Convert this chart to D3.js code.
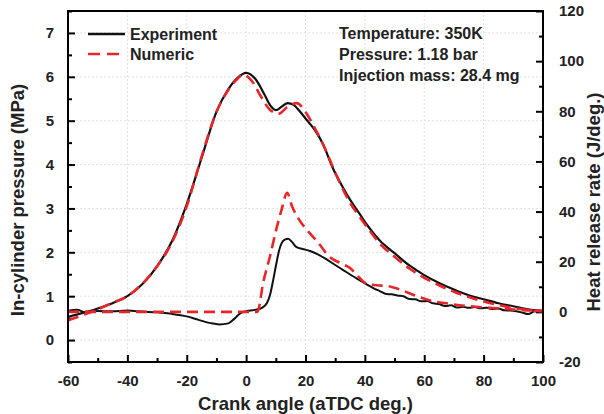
<!DOCTYPE html>
<html>
<head>
<meta charset="utf-8">
<script src="https://cdn.jsdelivr.net/npm/d3@7"></script>
<style>
  body { margin: 0; background: #fff; }
  svg { display: block; font-family: "Liberation Sans", Arial, sans-serif; font-weight: bold; }
</style>
</head>
<body>
<div id="chart"></div>
<script>
// In-cylinder pressure and heat release rate, experiment vs numeric

// [crank angle (aTDC deg.), pressure (MPa)]
const expPressure = [
    [-60, 0.53], [-55, 0.62], [-50, 0.72], [-45, 0.84], [-40, 1.0], [-35, 1.27],
    [-30, 1.68], [-25, 2.25], [-20, 3.1], [-15, 4.15], [-10, 5.2], [-6, 5.72],
    [-3, 5.97], [0, 6.09], [3, 5.96], [6, 5.62], [8, 5.36], [10, 5.24], [12, 5.32],
    [14, 5.4], [16, 5.36], [18, 5.22], [20, 5.05], [23, 4.8], [26, 4.45], [29, 3.95],
    [32, 3.55], [35, 3.2], [38, 2.9], [41, 2.6], [45, 2.27], [50, 1.98], [55, 1.7],
    [60, 1.48], [65, 1.3], [70, 1.15], [75, 1.02], [80, 0.93], [85, 0.84], [90, 0.77],
    [95, 0.7], [100, 0.66]
];
const numPressure = [
    [-60, 0.45], [-55, 0.57], [-50, 0.7], [-45, 0.85], [-40, 1.0], [-35, 1.28],
    [-30, 1.68], [-25, 2.22], [-20, 3.05], [-15, 4.18], [-10, 5.2], [-6, 5.7],
    [-3, 5.95], [-1, 6.05], [2, 5.9], [5, 5.55], [8, 5.25], [11, 5.16], [14, 5.32],
    [17, 5.4], [20, 5.2], [23, 4.85], [26, 4.45], [29, 3.98], [32, 3.52], [35, 3.13],
    [38, 2.83], [41, 2.55], [45, 2.2], [50, 1.9], [55, 1.63], [60, 1.42], [65, 1.25],
    [70, 1.1], [75, 0.98], [80, 0.88], [85, 0.8], [90, 0.73], [95, 0.68], [100, 0.65]
];

// [crank angle (aTDC deg.), heat release rate (J/deg.)]
const expHrr = [
    [-60, 0.4], [-57, 0.8], [-54, -0.2], [-50, 0.3], [-45, 0.2], [-40, 0.5], [-35, 0.1],
    [-30, -0.2], [-25, -0.8], [-20, -1.8], [-16, -3.2], [-12, -4.5], [-9, -5], [-6, -4.6],
    [-4, -2.8], [-2, -0.6], [0, 0.3], [3, 0.8], [5.5, 1.7], [7, 3.5], [8, 6.5], [9, 12],
    [10.3, 20], [11, 24], [12, 27.5], [13, 28.8], [14.2, 29.2], [15.5, 27.8], [17, 25.8],
    [19, 25.1], [21.5, 24.3], [24, 23], [27, 21], [30, 18.7], [32, 17.2], [34, 15.7],
    [36, 14.2], [38, 12.8], [40.6, 11], [43, 9.4], [45, 8.3], [47.3, 7.1], [49, 7],
    [51, 6.5], [53, 6.2], [55, 5.1], [57, 5], [59, 4.2], [61, 4.3], [63, 3.4], [65, 3.1],
    [67, 2.3], [69, 2.6], [71, 1.7], [73, 2], [75, 1.6], [77, 1.9], [79, 1.4], [81, 1.6],
    [83, 1.1], [85, 1.3], [87, 0.6], [89, 0.5], [91, 0.2], [93, -0.3], [95, -0.9],
    [97, 0.1], [100, 0.4]
];
const numHrr = [
    [-60, 0], [0, 0], [3.8, 0], [5.8, 12], [8, 22], [10.3, 33.6], [12, 41], [13.8, 47.5],
    [15.5, 42], [18, 36.5], [21, 32], [24, 28], [28, 22], [32, 19.3], [35, 17.5],
    [38, 13.8], [40.6, 11.2], [44, 10.6], [48, 10.2], [52, 8.8], [57, 6.5], [62, 4.5],
    [68, 3.3], [74, 2.4], [80, 1.8], [86, 1.3], [90, 0.9], [95, 0.6], [100, 0.5]
];

const xTicks = [-60, -40, -20, 0, 20, 40, 60, 80, 100];
const pTicks = [0, 1, 2, 3, 4, 5, 6, 7];
const hTicks = [-20, 0, 20, 40, 60, 80, 100, 120];
const infoLines = ["Temperature: 350K", "Pressure: 1.18 bar", "Injection mass: 28.4 mg"];

const W = 604, H = 414;
const margin = { top: 11, right: 61, bottom: 52, left: 68 };
const width = W - margin.left - margin.right;
const height = H - margin.top - margin.bottom;

const svg = d3.select("#chart").append("svg")
    .attr("width", W)
    .attr("height", H);

const g = svg.append("g")
    .attr("transform", `translate(${margin.left},${margin.top})`);

const x = d3.scaleLinear().domain([-60, 100]).range([0, width]);
const yP = d3.scaleLinear().domain([-0.5, 7.5]).range([height, 0]);
const yH = d3.scaleLinear().domain([-20, 120]).range([height, 0]);

// plain hyphen for negatives, like the original
const fmt = d => String(d);

// grid
g.append("g").selectAll("line")
    .data(xTicks.slice(1, -1))
    .join("line")
    .attr("x1", d => x(d)).attr("x2", d => x(d))
    .attr("y1", 0).attr("y2", height)
    .attr("stroke", "#e2e2e2").attr("stroke-dasharray", "2,2");
g.append("g").selectAll("line")
    .data(pTicks)
    .join("line")
    .attr("x1", 0).attr("x2", width)
    .attr("y1", d => yP(d)).attr("y2", d => yP(d))
    .attr("stroke", "#e2e2e2").attr("stroke-dasharray", "2,2");

// axes with inward ticks
const xMinor = d3.range(-50, 100, 20);
const pMinor = d3.range(-0.5, 7.5, 1).concat([7.5]);
const hMinor = d3.range(-10, 120, 20);

g.append("g").attr("transform", `translate(0,${height})`)
    .call(d3.axisBottom(x).tickValues(xTicks).tickSize(-7).tickPadding(13).tickFormat(fmt));
g.append("g").attr("transform", `translate(0,${height})`)
    .call(d3.axisBottom(x).tickValues(xMinor).tickSize(-4).tickFormat(""));

g.append("g")
    .call(d3.axisLeft(yP).tickValues(pTicks).tickSize(-7).tickPadding(14).tickFormat(fmt));
g.append("g")
    .call(d3.axisLeft(yP).tickValues(pMinor).tickSize(-4).tickFormat(""));

g.append("g").attr("transform", `translate(${width},0)`)
    .call(d3.axisRight(yH).tickValues(hTicks).tickSize(-7).tickPadding(16).tickFormat(fmt));
g.append("g").attr("transform", `translate(${width},0)`)
    .call(d3.axisRight(yH).tickValues(hMinor).tickSize(-4).tickFormat(""));

g.selectAll(".domain").remove();
g.selectAll(".tick line").attr("stroke", "#000").attr("stroke-width", 2);
g.selectAll(".tick text").attr("font-size", 15).attr("font-weight", "bold").attr("fill", "#222")
    .attr("font-family", "Liberation Sans, Arial, sans-serif");

// curves
svg.append("clipPath").attr("id", "plotclip")
    .append("rect").attr("width", width).attr("height", height);

const plot = g.append("g").attr("clip-path", "url(#plotclip)");

const lineP = d3.line().x(d => x(d[0])).y(d => yP(d[1])).curve(d3.curveMonotoneX);
const lineH = d3.line().x(d => x(d[0])).y(d => yH(d[1])).curve(d3.curveMonotoneX);

plot.append("path").datum(expHrr).attr("d", lineH)
    .attr("fill", "none").attr("stroke", "#111").attr("stroke-width", 2);
plot.append("path").datum(expPressure).attr("d", lineP)
    .attr("fill", "none").attr("stroke", "#111").attr("stroke-width", 2.2);
plot.append("path").datum(numHrr).attr("d", lineH)
    .attr("fill", "none").attr("stroke", "#e8262a").attr("stroke-width", 2.6)
    .attr("stroke-dasharray", "11,6");
plot.append("path").datum(numPressure).attr("d", lineP)
    .attr("fill", "none").attr("stroke", "#e8262a").attr("stroke-width", 2.6)
    .attr("stroke-dasharray", "11,6");

// frame
g.append("rect").attr("width", width).attr("height", height)
    .attr("fill", "none").attr("stroke", "#000").attr("stroke-width", 2);

// legend
const legend = svg.append("g");
legend.append("line").attr("x1", 88).attr("x2", 125).attr("y1", 34).attr("y2", 34)
    .attr("stroke", "#111").attr("stroke-width", 2.4);
legend.append("line").attr("x1", 88).attr("x2", 125).attr("y1", 54).attr("y2", 54)
    .attr("stroke", "#e8262a").attr("stroke-width", 2.6).attr("stroke-dasharray", "12,7");
legend.append("text").attr("x", 130).attr("y", 34).attr("dy", "0.35em")
    .attr("font-size", 16).attr("fill", "#222").text("Experiment");
legend.append("text").attr("x", 130).attr("y", 54).attr("dy", "0.35em")
    .attr("font-size", 16).attr("fill", "#222").text("Numeric");

// condition text
svg.append("g").selectAll("text")
    .data(infoLines)
    .join("text")
    .attr("x", 339)
    .attr("y", (d, i) => 33 + i * 21)
    .attr("dy", "0.35em")
    .attr("font-size", 16).attr("fill", "#222")
    .text(d => d);

// axis titles
svg.append("text")
    .attr("x", margin.left + width / 2).attr("y", 409.5)
    .attr("text-anchor", "middle").attr("font-size", 18.5).attr("fill", "#222")
    .text("Crank angle (aTDC deg.)");
svg.append("text")
    .attr("transform", "translate(24,200) rotate(-90)")
    .attr("text-anchor", "middle").attr("font-size", 18.5).attr("fill", "#222")
    .text("In-cylinder pressure (MPa)");
svg.append("text")
    .attr("transform", "translate(600,202) rotate(-90)")
    .attr("text-anchor", "middle").attr("font-size", 18.5).attr("fill", "#222")
    .text("Heat release rate (J/deg.)");
</script>
</body>
</html>
